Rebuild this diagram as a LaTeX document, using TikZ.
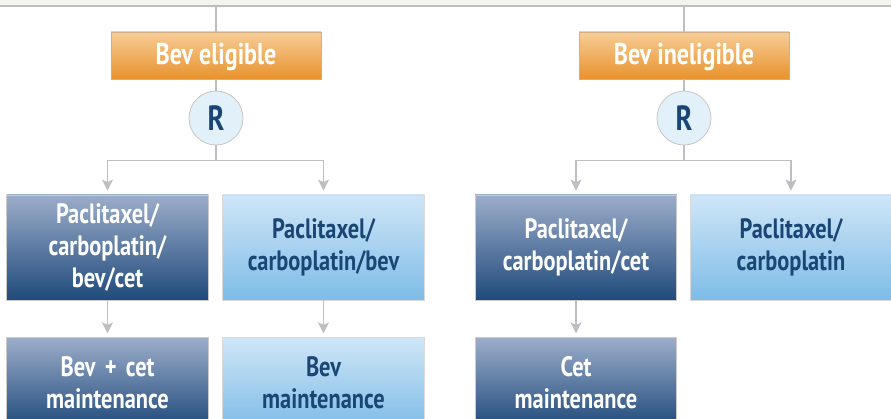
\documentclass[tikz,border=0pt]{standalone}
\usepackage{fontspec}
\setmainfont{PT Sans}[FakeStretch=0.8]
\usepackage{tikz}
\usetikzlibrary{positioning,arrows.meta}

\definecolor{linegray}{HTML}{BDBDC2}
\definecolor{orangetop}{HTML}{F7CD98}
\definecolor{orangebot}{HTML}{E8922C}
\definecolor{darktop}{HTML}{9CADCA}
\definecolor{darkbot}{HTML}{1F4A7B}
\definecolor{lighttop}{HTML}{CFE6F7}
\definecolor{lightbot}{HTML}{7EBCE7}
\definecolor{navytext}{HTML}{1A4676}
\definecolor{circfill}{HTML}{E2F0F9}
\definecolor{stripfill}{HTML}{F4F4EE}

\tikzset{
    armbox/.style={draw=orangebot!60!gray!70, line width=0.8pt, top color=orangetop, bottom color=orangebot,
        minimum width=210pt, minimum height=47pt, text height=20pt, text depth=2pt, text=white,
        font=\bfseries\fontsize{30}{32}\selectfont},
    darkbox/.style={draw=gray!40, line width=0.8pt, top color=darktop, bottom color=darkbot,
        minimum width=201pt, text width=195pt, align=center, text=white, font=\bfseries\fontsize{28}{32}\selectfont},
    lightbox/.style={draw=gray!30, line width=0.8pt, top color=lighttop, bottom color=lightbot,
        minimum width=202pt, text width=195pt, align=center, text=navytext, font=\bfseries\fontsize{28}{32}\selectfont},
    randnode/.style={circle, draw=gray!45, line width=0.8pt, fill=circfill, minimum size=54pt, inner sep=0pt,
        text=navytext, font=\bfseries\fontsize{35}{36}\selectfont},
    link/.style={draw=linegray, line width=1.2pt},
    flow/.style={link, -{Stealth[length=11pt,width=11pt,inset=2.5pt]}, shorten >=4pt}
}

\begin{document}
\begin{tikzpicture}[x=1pt, y=-1pt, node distance=37pt and 14pt]
    \useasboundingbox (0,0) rectangle (891,419);
    \clip (0,0) rectangle (891,419);
    % top strip
    \fill[stripfill] (0,0) rectangle (891,6);
    \draw[linegray, line width=1.2pt] (0,6) -- (891,6);
    \coordinate (topl) at (216,6);
    \coordinate (topr) at (684,6);

    % eligible arm
    \node[armbox] (elig) at (216,55.5) {Bev eligible};
    \node[randnode] (rl) at (216,118) {R};
    \node[darkbox, minimum height=105pt] (pcbc) at (107.5,247.5) {Paclitaxel/\\carboplatin/\\bev/cet};
    \node[lightbox, minimum height=105pt] (pcb) at (323.5,247.5) {Paclitaxel/\\carboplatin/bev};
    \node[darkbox, minimum height=90pt, anchor=north, below=of pcbc] (bcm) {Bev + cet\\maintenance};
    \node[lightbox, minimum height=90pt, anchor=north, below=of pcb] (bm) {Bev\\maintenance};

    % ineligible arm
    \node[armbox] (inelig) at (684,55.5) {Bev ineligible};
    \node[randnode] (rr) at (684,118) {R};
    \node[darkbox, minimum height=105pt] (pcc) at (576,247.5) {Paclitaxel/\\carboplatin/cet};
    \node[lightbox, minimum height=105pt] (pc) at (791,247.5) {Paclitaxel/\\carboplatin};
    \node[darkbox, minimum height=90pt, anchor=north, below=of pcc] (cm) {Cet\\maintenance};

    % connectors
    \draw[link] (topl) -- (elig.north);
    \draw[link] (topr) -- (inelig.north);
    \draw[link] (elig) -- (rl);
    \draw[link] (inelig) -- (rr);
    \draw[flow] (rl.south) -- ++(0,15) -| (pcbc.north);
    \draw[flow] (rl.south) -- ++(0,15) -| (pcb.north);
    \draw[flow] (rr.south) -- ++(0,15) -| (pcc.north);
    \draw[flow] (rr.south) -- ++(0,15) -| (pc.north);
    \draw[flow] (pcbc) -- (bcm);
    \draw[flow] (pcb) -- (bm);
    \draw[flow] (pcc) -- (cm);
\end{tikzpicture}
\end{document}
